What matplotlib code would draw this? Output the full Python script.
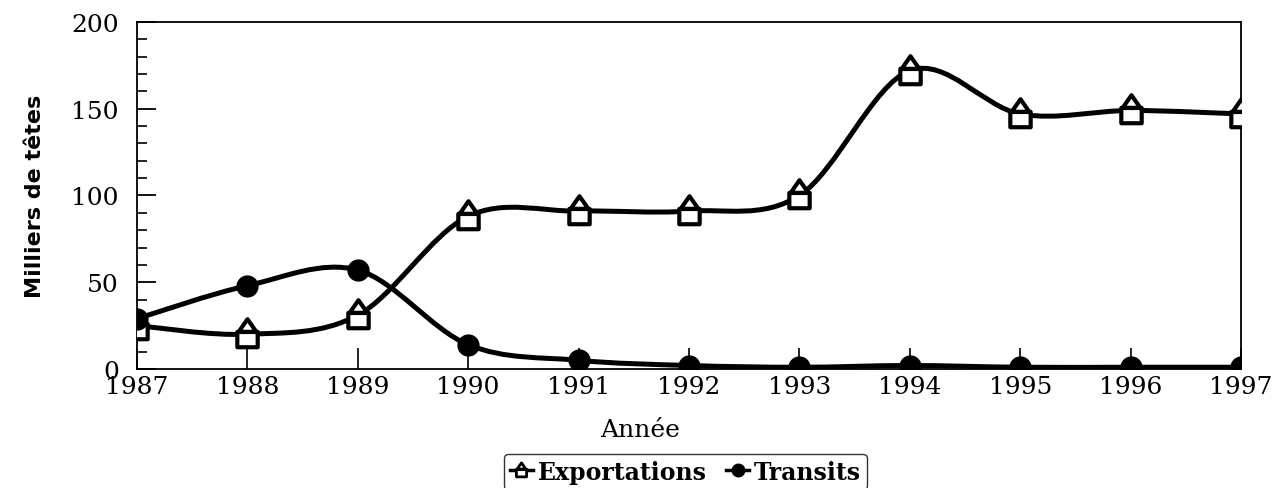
import numpy as np
from matplotlib import pyplot as plt
from matplotlib.path import Path
from matplotlib.patches import PathPatch
from matplotlib.lines import Line2D
from matplotlib.ticker import MultipleLocator

years = [1987, 1988, 1989, 1990, 1991, 1992, 1993, 1994, 1995, 1996, 1997]
exportations = [25, 20, 31, 88, 91, 91, 100, 172, 147, 149, 147]
transits = [29, 48, 57, 14, 5, 2, 1, 2, 1, 1, 1]

SERIF = "DejaVu Serif"


def smooth_path(x, y):
    # Catmull-Rom through the points, written as cubic bezier segments
    pts = np.column_stack([x, y]).astype(float)
    padded = np.vstack([pts[0], pts, pts[-1]])
    verts = [pts[0]]
    codes = [Path.MOVETO]
    for i in range(len(pts) - 1):
        p0, p1, p2, p3 = padded[i], padded[i + 1], padded[i + 2], padded[i + 3]
        verts += [p1 + (p2 - p0) / 6, p2 - (p3 - p1) / 6, p2]
        codes += [Path.CURVE4] * 3
    return Path(verts, codes)


# house shaped marker: open square with a triangle on top
house = Path(
    [(-0.8, -1.0), (0.8, -1.0), (0.8, 0.2), (-0.8, 0.2), (-0.8, -1.0),
     (-0.7, 0.2), (0.0, 1.2), (0.7, 0.2), (-0.7, 0.2)],
    [Path.MOVETO, Path.LINETO, Path.LINETO, Path.LINETO, Path.CLOSEPOLY,
     Path.MOVETO, Path.LINETO, Path.LINETO, Path.CLOSEPOLY])

fig = plt.figure(figsize=(12.74, 4.89), dpi=100)
ax = fig.add_axes([0.1075, 0.2434, 0.8666, 0.7096])

for series in (exportations, transits):
    ax.add_patch(PathPatch(smooth_path(years, series), facecolor="none",
                           edgecolor="black", lw=3.6, zorder=2))

ax.plot(years, exportations, linestyle="none", marker=house, markersize=22,
        markerfacecolor="white", markeredgecolor="black", markeredgewidth=3.0, zorder=3)
ax.plot(years, transits, linestyle="none", marker="o", markersize=15,
        markerfacecolor="black", markeredgecolor="black", zorder=4)

ax.set_xlim(1987, 1997)
ax.set_ylim(0, 200)
ax.set_xticks(years)
ax.yaxis.set_major_locator(MultipleLocator(50))
ax.yaxis.set_minor_locator(MultipleLocator(10))
ax.tick_params(axis="y", which="major", direction="in", length=14, width=1.3, pad=13,
               labelsize=18, right=False)
ax.tick_params(axis="y", which="minor", direction="in", length=7, width=1.2, right=False)
ax.tick_params(axis="x", direction="in", length=15, width=1.2, pad=4, labelsize=18, top=False)
for lab in ax.get_xticklabels() + ax.get_yticklabels():
    lab.set_family(SERIF)
ax.get_yticklabels()[0].set_verticalalignment("bottom")
for s in ax.spines.values():
    s.set_linewidth(1.3)

ax.set_xlabel("Année", family=SERIF, fontsize=18)
ax.xaxis.set_label_coords(0.456, -0.14)
ax.set_ylabel("Milliers de têtes", family="DejaVu Sans", fontsize=16, weight="bold")
ax.yaxis.set_label_coords(-0.083, 0.5)

handles = [
    Line2D([], [], color="black", lw=2.5, marker=house, markersize=11,
           markerfacecolor="white", markeredgewidth=2.0),
    Line2D([], [], color="black", lw=2.5, marker="o", markersize=9),
]
fig.legend(handles, ["Exportations", "Transits"], loc="upper center",
           bbox_to_anchor=(0.538, 0.07), borderaxespad=0, ncol=2, frameon=True,
           fancybox=True, edgecolor="black", handlelength=1.0, handletextpad=0.2,
           columnspacing=0.8, borderpad=0.25,
           prop={"family": SERIF, "weight": "bold", "size": 17})

plt.savefig("out.png", dpi=100)
